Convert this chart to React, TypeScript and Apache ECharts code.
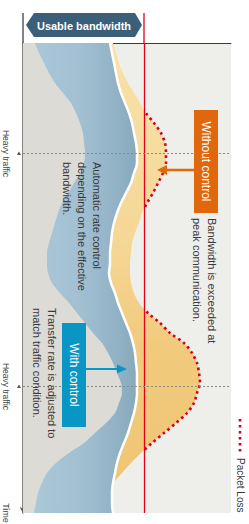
import React, { useEffect, useRef } from "react";
import * as echarts from "echarts";

// Time steps (rows from top to bottom of the chart)
const TIME: string[] = [
  "0","1","2","3","4","5","6","7","8","9","10","11","12","13","14","15",
  "16","17","18","19","20","21","22","23","24","25","26","27","28","29","30","31",
  "32","33","34","35","36","37","38","39","40","41","42","43","44","45","46","47",
];
// Left edge of the usable-bandwidth band (blue)
const BAND_LEFT: number[] = [
  12, 16, 21, 26, 32, 40, 48, 53, 57, 60, 61, 62, 61, 57, 51, 45,
  39, 35, 32, 29, 26, 24, 24, 25, 29, 37, 46, 54, 62, 70, 79, 85,
  90, 94, 98, 99, 96, 92, 83, 72, 61, 46, 33, 24, 19, 15, 13, 11,
];
// Usable bandwidth (white curve)
const BANDWIDTH: number[] = [
  87, 89, 91, 93, 95, 98, 102, 106, 109, 111, 113, 114, 114, 111, 108, 103,
  98, 94, 91, 89, 88, 87, 87, 86, 88, 92, 95, 99, 103, 107, 110, 112,
  113, 114, 114, 114, 113, 111, 108, 105, 101, 97, 94, 92, 90, 89, 89, 90,
];
// Traffic demand without control (yellow edge / packet loss)
const TRAFFIC: number[] = [
  90, 93, 96, 100, 105, 111, 117, 123, 131, 138, 142, 143, 143, 140, 135, 130,
  124, 119, 116, 112, 109, 108, 107, 107, 108, 111, 116, 125, 137, 147, 161, 169,
  174, 176, 177, 174, 171, 164, 153, 141, 129, 118, 108, 99, 90, 83, 77, 72,
];
const LIMIT = 121; // fixed link bandwidth (red line)
const HEAVY: number[] = [11.05, 34.35]; // heavy-traffic moments
const TIME_MAX = 47;
const AXIS_LABELS: string[] = ["Heavy traffic", "Heavy traffic", "Time"];

const FONT = "Liberation Sans";

export default function App() {
  const ref = useRef<HTMLDivElement>(null);
  useEffect(() => {
    if (!ref.current) return;
    const chart = echarts.init(ref.current, undefined, { renderer: "svg" });
    const pairs = (arr: number[]) => arr.map((v, i) => [v, i]);
    const option: any = {
      animation: false,
      grid: {
        left: 23, top: 43, width: 208, height: 470,
        show: true, backgroundColor: "#eeeeea", borderWidth: 0,
      },
      xAxis: {
        type: "value", position: "top", min: 0, max: 208,
        axisLine: { show: true, lineStyle: { color: "#3a3a3a", width: 1 } },
        axisTick: { show: false }, axisLabel: { show: false }, splitLine: { show: false },
      },
      yAxis: [
        {
          type: "category", data: TIME, inverse: true, boundaryGap: false,
          axisLine: { show: true, symbol: ["arrow", "none"], symbolSize: [5, 6], lineStyle: { color: "#5a5a5a", width: 1.5 } },
          axisTick: { show: false }, axisLabel: { show: false }, splitLine: { show: false },
        },
        {
          type: "value", min: 0, max: TIME_MAX, inverse: true, position: "left",
          axisLine: { show: false }, axisTick: { show: false }, splitLine: { show: false },
          axisLabel: { show: false },
        },
      ],
      visualMap: {
        type: "piecewise", show: false, dimension: 0, seriesIndex: 4,
        pieces: [
          { min: -1000, max: LIMIT, color: "rgba(214,0,28,0)" },
          { min: LIMIT, max: 1000, color: "#d6001c" },
        ],
      },
      series: [
        {
          type: "line", data: pairs(TRAFFIC), smooth: 0.3, showSymbol: false, silent: true,
          lineStyle: { width: 0 },
          areaStyle: {
            opacity: 1,
            color: new echarts.graphic.LinearGradient(0, 0, 0, 1, [
              { offset: 0, color: "#f8e1a8" },
              { offset: 0.4, color: "#f5d898" },
              { offset: 0.65, color: "#f1ca7c" },
              { offset: 1, color: "#efc573" },
            ]),
          },
        },
        {
          type: "line", data: pairs(BANDWIDTH), smooth: 0.3, showSymbol: false, silent: true,
          lineStyle: { width: 0 },
          areaStyle: {
            opacity: 1,
            color: new echarts.graphic.LinearGradient(0, 0, 1, 0, [
              { offset: 0, color: "#adc9da" },
              { offset: 0.5, color: "#a2c0d2" },
              { offset: 1, color: "#88a9bd" },
            ]),
          },
        },
        {
          type: "line", data: pairs(BAND_LEFT), smooth: 0.3, showSymbol: false, silent: true,
          lineStyle: { width: 0 },
          areaStyle: { opacity: 1, color: "#dcdbd6" },
        },
        {
          type: "line", data: pairs(BANDWIDTH), smooth: 0.3, showSymbol: false, silent: true,
          lineStyle: { width: 2.5, color: "#ffffff" },
        },
        {
          type: "line", data: pairs(TRAFFIC), smooth: 0.3, showSymbol: false, silent: true,
          lineStyle: { width: 2.6, type: [2.6, 3.4] },
        },
        {
          type: "line", yAxisIndex: 1, data: [[LIMIT, 0]], silent: true,
          showSymbol: false, lineStyle: { width: 0 },
          markLine: {
            silent: true, symbol: ["none", "none"], label: { show: false },
            lineStyle: { color: "#8a8a8a", type: [2, 2], width: 1 },
            data: [
              { xAxis: LIMIT, lineStyle: { color: "#e2001a", type: "solid", width: 1.3 } },
              { yAxis: HEAVY[0] },
              { yAxis: HEAVY[1] },
            ],
          },
        },
      ],
    };
    chart.setOption(option);

    const xLim = chart.convertToPixel({ xAxisIndex: 0 }, LIMIT) as number;
    const x0 = chart.convertToPixel({ xAxisIndex: 0 }, 0) as number;
    const yTop = chart.convertToPixel({ yAxisIndex: 1 }, 0) as number;
    const labelY = [...HEAVY, TIME_MAX].map((h) => chart.convertToPixel({ yAxisIndex: 1 }, h) as number);
    const yHeavy = labelY.slice(0, 2);
    const rot = -Math.PI / 2;
    const txt = (x: number, y: number, text: string, extra: any = {}) => ({
      type: "text", x, y, rotation: rot, silent: true, z: 100,
      style: {
        text, fontFamily: FONT, fontSize: 11, lineHeight: 15, fill: "#3a3a3a",
        textAlign: "left", textVerticalAlign: "top", align: "left", verticalAlign: "top",
        ...extra,
      },
    });
    const tri = (y: number) => ({
      type: "polygon", silent: true, z: 100,
      shape: { points: [[x0 - 6, y + 1.5], [x0 - 4, y - 2], [x0 - 2, y + 1.5]] },
      style: { fill: "#555" },
    });
    const axisLabel = (y: number, i: number) =>
      txt(x0 - 10, y, AXIS_LABELS[i], {
        fontSize: i === 2 ? 9 : 8.5, fill: "#444",
        textAlign: "center", align: "center",
      });
    chart.setOption({
      graphic: [
        { type: "line", silent: true, z: 100, shape: { x1: x0, y1: 13, x2: x0, y2: yTop }, style: { stroke: "#5a5a5a", lineWidth: 1.5 } },
        { type: "line", silent: true, z: 100, shape: { x1: xLim, y1: 13, x2: xLim, y2: yTop }, style: { stroke: "#e2001a", lineWidth: 1.3 } },
        ...yHeavy.map(tri),
        ...labelY.map(axisLabel),
        {
          type: "polygon", silent: true, z: 100,
          shape: { points: [[26, 25], [34, 13], [135, 13], [142, 25], [135, 37], [34, 37]] },
          style: { fill: "#3b5f79" },
        },
        {
          type: "text", x: 84, y: 25.5, silent: true, z: 101,
          style: {
            text: "Usable bandwidth", fontFamily: FONT, fontSize: 11, fontWeight: "bold", fill: "#ffffff",
            textAlign: "center", textVerticalAlign: "middle", align: "center", verticalAlign: "middle",
          },
        },
        txt(104.5, 162, "Automatic rate control\ndepending on the effective\nbandwidth."),
        txt(59.5, 308, "Transfer rate is adjusted to\nmatch traffic condition."),
        txt(219.5, 218, "Bandwidth is exceeded at\npeak communication."),
        { type: "rect", silent: true, z: 100, shape: { x: 62, y: 323, width: 24, height: 104 }, style: { fill: "#0a96c5" } },
        { ...txt(74, 375, "With control", { fill: "#ffffff", fontSize: 12, textAlign: "center", align: "center", textVerticalAlign: "middle", verticalAlign: "middle" }), z: 101 },
        { type: "line", silent: true, z: 100, shape: { x1: 86, y1: 369, x2: 119, y2: 369 }, style: { stroke: "#0a96c5", lineWidth: 2 } },
        { type: "polygon", silent: true, z: 100, shape: { points: [[117, 364.5], [127, 369], [117, 373.5]] }, style: { fill: "#0a96c5" } },
        { type: "rect", silent: true, z: 100, shape: { x: 194, y: 110, width: 24, height: 103 }, style: { fill: "#e0670b" } },
        { ...txt(206, 161.5, "Without control", { fill: "#ffffff", fontSize: 12, textAlign: "center", align: "center", textVerticalAlign: "middle", verticalAlign: "middle" }), z: 101 },
        { type: "line", silent: true, z: 100, shape: { x1: 194, y1: 170, x2: 165, y2: 170 }, style: { stroke: "#e0670b", lineWidth: 2.5 } },
        { type: "polygon", silent: true, z: 100, shape: { points: [[167, 165], [157, 170], [167, 175]] }, style: { fill: "#e0670b" } },
        { type: "line", silent: true, z: 100, shape: { x1: 240, y1: 419, x2: 240, y2: 452 }, style: { stroke: "#d6001c", lineWidth: 2.6, lineDash: [2.6, 3.4] } },
        txt(240, 458, "Packet Loss", { fontSize: 10, textVerticalAlign: "middle", verticalAlign: "middle" }),
      ],
    });
    return () => chart.dispose();
  }, []);
  return (
    <div
      ref={ref}
      style={{ position: "fixed", left: 0, top: 0, width: 249, height: 524, background: "#ffffff" }}
    />
  );
}
